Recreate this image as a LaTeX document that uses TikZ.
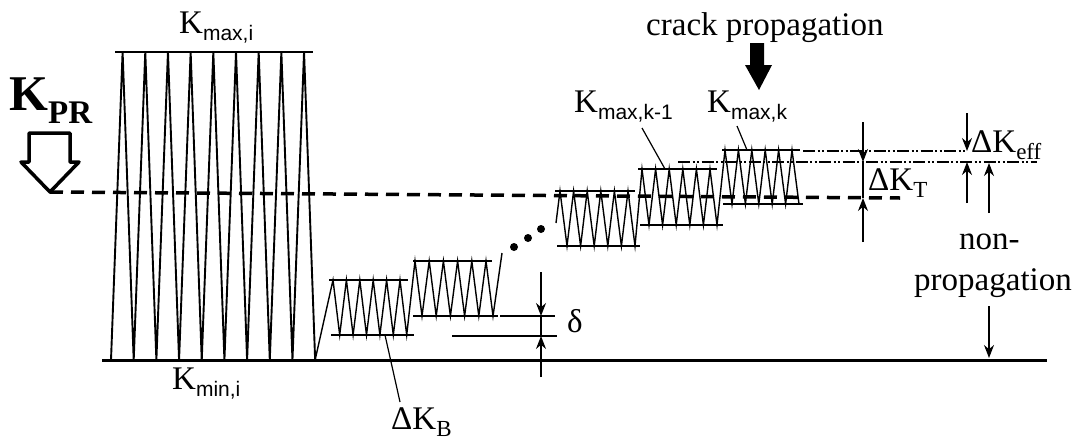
\documentclass[tikz,border=0pt]{standalone}
\usepackage{fontspec}
\setmainfont{Liberation Serif}
\setsansfont{Liberation Sans}
\usetikzlibrary{arrows.meta}
\newcommand{\subsf}[1]{\raisebox{-7pt}{\fontsize{21}{21}\selectfont\sffamily #1}}
\newcommand{\subrm}[1]{\raisebox{-7pt}{\fontsize{23}{23}\selectfont #1}}
\begin{document}
\begin{tikzpicture}[x=1pt,y=-1pt,
  zig/.style={line width=1.4pt, line join=miter},
  bigzig/.style={line width=1.9pt, line join=miter},
  lvl/.style={line width=2.6pt},
  baseln/.style={line width=3pt},
  thinln/.style={line width=1.2pt},
  kprline/.style={line width=3.5pt, dash pattern=on 13pt off 8pt},
  dd/.style={line width=1.3pt, dash pattern=on 12pt off 2.5pt on 2pt off 2.5pt on 2pt off 2.5pt},
  arr/.style={line width=1.3pt, -{Stealth[length=13pt,width=10pt]}},
  lbl/.style={inner sep=0pt, anchor=base west, font=\fontsize{33}{33}\selectfont}
]
\useasboundingbox (0,0) rectangle (1078,442);

% reference levels
\draw[lvl] (115,52) -- (313,52);
\draw[baseln] (102,360) -- (1047,360);
\draw[lvl] (329,280) -- (408,280);
\draw[lvl] (331,335) -- (414,335);
\draw[lvl] (413,261) -- (492,261);
\draw[lvl] (413,316) -- (498,316);
\draw[lvl] (555,191) -- (635,191);
\draw[lvl] (557,246) -- (640,246);
\draw[lvl] (638,169) -- (717,169);
\draw[lvl] (640,225) -- (723,225);
\draw[lvl] (722,150) -- (800,150);
\draw[lvl] (723,204) -- (803,204);

% load history
\draw[bigzig] (111,360)
  \foreach \k in {0,...,8} { -- ({122.6+22.68*\k},52) -- ({133.7+22.68*\k},360) };
\draw[zig] (315.1,360)
  \foreach \k in {0,...,5} { -- ({333+13.4*\k},280) -- ({339.7+13.4*\k},335) }
  \foreach \k in {0,...,5} { -- ({415+14.2*\k},261) -- ({422+14.2*\k},316) }
  -- (502,253);
\draw[zig] (556,223)
  \foreach \k in {0,...,5} { -- ({560+13.6*\k},191) -- ({567+13.6*\k},246) }
  \foreach \k in {0,...,5} { -- ({642+13.6*\k},169) -- ({649+13.6*\k},225) }
  \foreach \k in {0,...,5} { -- ({725+13.4*\k},150) -- ({732+13.4*\k},204) };

% ellipsis dots
\fill (514,247) circle (4pt);
\fill (528,238) circle (4pt);
\fill (541,229) circle (4pt);

% threshold K_PR
\coordinate (kprTip) at (50,192);
\coordinate (kprEnd) at (900,198);
\draw[kprline] (kprTip) -- (kprEnd);
\draw[line width=3.5pt, fill=white, line join=round]
  (29,133) -- (70,133) -- (70,162) -- (79,162) -- (kprTip) -- (21,162) -- (29,162) -- cycle;
\node[inner sep=0pt, anchor=base west] (kpr) at (9,110)
  {\fontsize{50}{50}\selectfont\bfseries K\raisebox{-13pt}{\fontsize{33}{33}\selectfont PR}};

% crack propagation arrow
\fill (750,43) -- (764,43) -- (764,65) -- (772,65) -- (759,90) -- (745,65) -- (750,65) -- cycle;
\node[lbl] (crack) at (646,35) {crack propagation};

% dash-dot levels
\draw[dd] (678,162) -- (1037,162);
\draw[dd] (803,151) -- (965,151);

% delta
\draw[thinln] (500,316) -- (555,316);
\draw[thinln] (452,336) -- (557,336);
\coordinate (dA) at (541,272); \coordinate (dB) at (541,316);
\coordinate (dC) at (541,336); \coordinate (dD) at (541,377);
\draw[arr] (dA) -- (dB);
\draw[arr] (dD) -- (dC);
\draw[thinln] (dB) -- (dC);
\node[lbl] (delta) at (567,332) {δ};

% Delta K_T
\coordinate (tA) at (863,122); \coordinate (tB) at (863,162);
\coordinate (tC) at (863,198); \coordinate (tD) at (863,242);
\draw[arr] (tA) -- (tB);
\draw[arr] (tD) -- (tC);
\draw[thinln] (tB) -- (tC);
\node[lbl] (dkt) at (868,190) {ΔK\subrm{T}};

% Delta K_eff
\coordinate (eA) at (967,113); \coordinate (eB) at (967,151);
\coordinate (eC) at (967,162); \coordinate (eD) at (967,203);
\draw[arr] (eA) -- (eB);
\draw[arr] (eD) -- (eC);
\node[lbl] (dkeff) at (971,152) {ΔK\subrm{eff}};

% non-propagation
\node[lbl] (non) at (959,249) {non-};
\node[lbl] (prop) at (914,290) {propagation};
\coordinate (nA) at (989,213); \coordinate (nB) at (989,163);
\coordinate (nC) at (989,306); \coordinate (nD) at (989,358);
\draw[arr] (nA) -- (nB);
\draw[arr] (nC) -- (nD);

% labels with leaders
\node[lbl] (kmaxi) at (179,33) {K\subsf{max,i}};
\node[lbl] (kmini) at (172,389) {K\subsf{min,i}};
\node[lbl] (kmaxk1) at (574,112) {K\subsf{max,k-1}};
\node[lbl] (kmaxk) at (707,112) {K\subsf{max,k}};
\node[lbl] (dkb) at (391,429) {ΔK\subrm{B}};
\coordinate (lB1) at (400,402); \coordinate (lB2) at (385,335);
\draw[thinln] (lB1) -- (lB2);
\coordinate (lK1) at (642,128); \coordinate (lK2) at (665,169);
\draw[thinln] (lK1) -- (lK2);
\coordinate (lk1) at (737,126); \coordinate (lk2) at (747,150);
\draw[thinln] (lk1) -- (lk2);
\end{tikzpicture}
\end{document}
